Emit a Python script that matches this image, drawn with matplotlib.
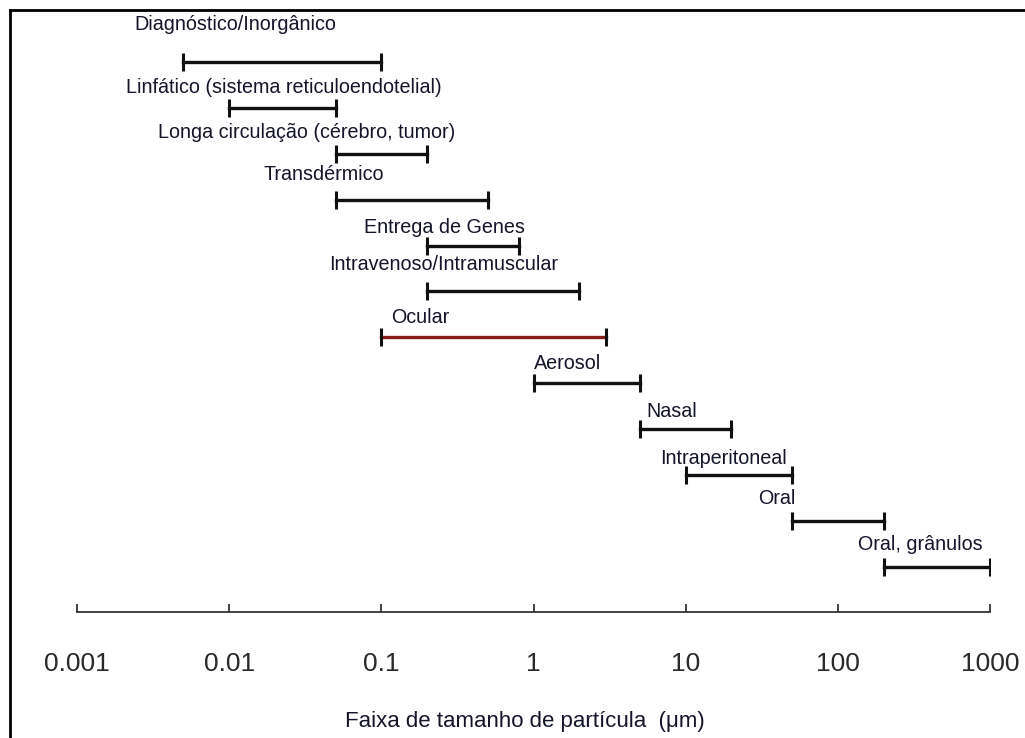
import matplotlib
matplotlib.use("Agg")
import matplotlib.pyplot as plt
from matplotlib.lines import Line2D

plt.rcParams['font.family'] = ['Liberation Sans', 'DejaVu Sans']

# ---- data ----
routes = ["Diagnóstico/Inorgânico",
          "Linfático (sistema reticuloendotelial)",
          "Longa circulação (cérebro, tumor)",
          "Transdérmico",
          "Entrega de Genes",
          "Intravenoso/Intramuscular",
          "Ocular",
          "Aerosol",
          "Nasal",
          "Intraperitoneal",
          "Oral",
          "Oral, grânulos"]
size_min = [0.005, 0.01, 0.05, 0.05, 0.2, 0.2, 0.1, 1, 5, 10, 50, 200]
size_max = [0.1, 0.05, 0.2, 0.5, 0.8, 2, 3, 5, 20, 50, 200, 1000]
tick_values = [0.001, 0.01, 0.1, 1, 10, 100, 1000]
tick_labels = ["0.001", "0.01", "0.1", "1", "10", "100", "1000"]
xlabel = "Faixa de tamanho de partícula  (μm)"

# ---- layout (label anchors, not data) ----
label_left = [0.0024, 0.0021, 0.0034, 0.0167, 0.0769, 0.0453,
              0.1156, 1.006, 5.48, 6.77, 29.8, 135]
label_dy_px = [38, 20, 21, 25, 18, 27, 20, 20, 18, 17, 22, 22]
line_colors = ['#111111'] * 12
line_colors[6] = '#8a1c1c'

fig = plt.figure(figsize=(10.25, 7.38), dpi=100)
fig.patch.set_facecolor('white')

W, H = 1025, 738
x0, x1 = 77, 990
ybot, ytop = 612, 10
ax = fig.add_axes([x0 / W, (H - ybot) / H, (x1 - x0) / W, (ybot - ytop) / H])
ax.set_xscale('log')
ax.set_xlim(0.001, 1000)
step = 45.9
first = 62
ax.set_ylim((ybot - first) / step, (ytop - first) / step)

for i, r in enumerate(routes):
    ax.plot([size_min[i], size_max[i]], [i, i], color=line_colors[i],
            lw=2.4, solid_capstyle='projecting', zorder=2)
    ax.plot([size_min[i], size_max[i]], [i, i], linestyle='none',
            marker='|', markersize=12.5, mew=2.2, color='#111111', zorder=3)
    ax.annotate(r, xy=(label_left[i], i), xytext=(0, label_dy_px[i] * 0.72),
                textcoords='offset points', ha='left', va='center',
                fontsize=14.2, color='#15152a')

for s in ['top', 'left', 'right']:
    ax.spines[s].set_visible(False)
ax.spines['bottom'].set_color('#333333')
ax.spines['bottom'].set_linewidth(1.3)
ax.set_yticks([])
ax.set_xticks(tick_values)
ax.set_xticklabels(tick_labels)
ax.minorticks_off()
ax.tick_params(axis='x', direction='in', length=6, width=1.3, color='#333333',
               pad=29, labelsize=19, labelcolor='#2a2a2a')
ax.patch.set_alpha(0)

fig.text(525 / W, 1 - 721 / H, xlabel, ha='center', va='center',
         fontsize=16, color='#15152a')

# border lines
fig.add_artist(Line2D([10 / W, 1.0], [1 - 10 / H, 1 - 10 / H],
                      transform=fig.transFigure, color='black', lw=2))
fig.add_artist(Line2D([10 / W, 10 / W], [1 - 10 / H, 0],
                      transform=fig.transFigure, color='black', lw=2))

fig.savefig('out.png', dpi=100)
